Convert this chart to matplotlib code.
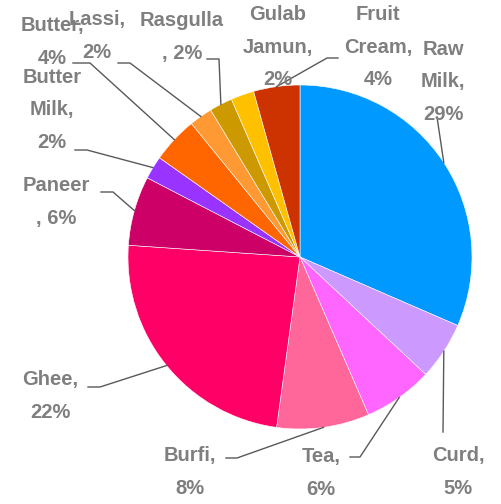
import numpy as np
import matplotlib.pyplot as plt

# dairy product shares (%), clockwise from 12 o'clock
products = ['Raw Milk', 'Curd', 'Tea', 'Burfi', 'Ghee', 'Paneer', 'Butter Milk',
            'Butter', 'Lassi', 'Rasgulla', 'Gulab Jamun', 'Fruit Cream']
shares = [29, 5, 6, 8, 22, 6, 2, 4, 2, 2, 2, 4]
label_texts = ['Raw\nMilk,\n29%', 'Curd,\n5%', 'Tea,\n6%', 'Burfi,\n8%', 'Ghee,\n22%',
               'Paneer\n, 6%', 'Butter\nMilk,\n2%', 'Butter,\n4%', 'Lassi,\n2%',
               'Rasgulla\n, 2%', 'Gulab\nJamun,\n2%', 'Fruit\nCream,\n4%']
colors = ['#0099FF', '#CC99FF', '#FF66FF', '#FF6699', '#FF0066', '#CC0066',
          '#9933FF', '#FF6600', '#FF9933', '#CC9900', '#FFC000', '#CC3300']

# label placement in pixels (x, y from top)
label_pos = [(443, 82), (458, 472), (321, 473), (190, 472), (50, 396), (56, 202),
             (52, 110), (52, 42), (97, 36), (182, 37), (278, 47), (378, 47)]
leaders = [[(437, 117)], [(443, 432)], [(360, 457), (350, 457)], [(237, 458), (226, 458)],
           [(100, 387), (88, 387)], [(113, 192), (101, 192)], [(87, 150), (75, 150)],
           [(90, 63), (73, 63)], [(130, 63), (118, 63)], [(219, 59), (207, 59)],
           None, [(327, 58), (338, 58)]]

W, H = 501, 504
cx, cy, R = 300, H - 257, 172

fig = plt.figure(figsize=(W / 100, H / 100), dpi=100)
ax = fig.add_axes([0, 0, 1, 1])
wedges, _ = ax.pie(shares, colors=colors, startangle=90, counterclock=False,
                   center=(cx, cy), radius=R,
                   wedgeprops=dict(edgecolor='white', linewidth=0.4))
ax.set_xlim(0, W)
ax.set_ylim(0, H)
ax.set_aspect('equal')
ax.axis('off')

for w, txt, (tx, ty), pts in zip(wedges, label_texts, label_pos, leaders):
    if pts is not None:
        mid = np.deg2rad((w.theta1 + w.theta2) / 2)
        xs = [cx + R * np.cos(mid)] + [p[0] for p in pts]
        ys = [cy + R * np.sin(mid)] + [H - p[1] for p in pts]
        ax.plot(xs, ys, color='#595959', lw=1.0, zorder=3)
    ax.text(tx, H - ty, txt, ha='center', va='center', fontsize=14.5,
            fontweight='bold', color='#7F7F7F', linespacing=1.9,
            family=['Liberation Sans', 'DejaVu Sans'], zorder=4)

fig.savefig('out.png', dpi=100)
